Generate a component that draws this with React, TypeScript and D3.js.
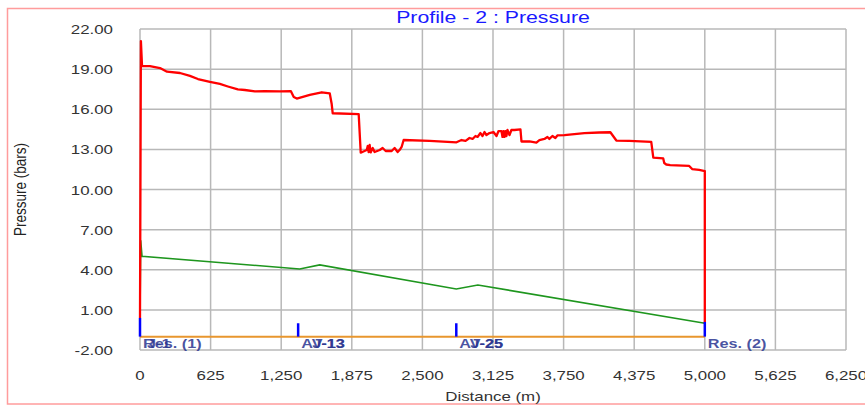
import React from "react";
import * as d3 from "d3";

const title = "Profile - 2 : Pressure";
const xLabel = "Distance (m)";
const yLabel = "Pressure (bars)";
const xTicks = [0, 625, 1250, 1875, 2500, 3125, 3750, 4375, 5000, 5625, 6250];
const yTicks = [-2, 1, 4, 7, 10, 13, 16, 19, 22];

// Pressure profile (red)
const pressureDist = [0, 8, 18, 88, 177, 239, 354, 442, 513, 619, 707, 778, 866, 928, 1017, 1105, 1238, 1335, 1361, 1388, 1503, 1609, 1680, 1697, 1706, 1936, 1954, 2007, 2016, 2024, 2033, 2042, 2060, 2077, 2122, 2148, 2175, 2228, 2254, 2281, 2298, 2316, 2334, 2564, 2802, 2846, 2882, 2917, 2944, 2970, 2988, 3014, 3032, 3050, 3067, 3094, 3129, 3156, 3174, 3200, 3209, 3218, 3227, 3235, 3244, 3253, 3271, 3288, 3315, 3368, 3377, 3448, 3509, 3536, 3580, 3607, 3624, 3651, 3677, 3695, 3757, 3801, 3934, 4066, 4164, 4217, 4332, 4526, 4544, 4632, 4641, 4659, 4694, 4862, 4888, 4950, 5000, 5000];
const pressureVal = [0.4, 21.1, 19.23, 19.23, 19.08, 18.81, 18.71, 18.49, 18.26, 18.04, 17.89, 17.7, 17.48, 17.44, 17.33, 17.36, 17.33, 17.36, 16.92, 16.8, 17.07, 17.27, 17.18, 16.39, 15.7, 15.64, 12.75, 12.95, 13.25, 12.8, 13.33, 12.77, 13.1, 12.8, 12.95, 13.1, 12.88, 12.88, 13.1, 12.8, 12.95, 13.18, 13.7, 13.63, 13.53, 13.7, 13.63, 13.85, 13.78, 14.0, 13.93, 14.22, 14.0, 14.3, 14.07, 14.22, 14.3, 14.0, 14.37, 14.37, 13.93, 14.37, 13.93, 14.37, 14.0, 14.45, 14.07, 14.45, 14.45, 14.49, 13.59, 13.59, 13.51, 13.7, 13.78, 13.93, 13.78, 14.0, 13.85, 14.04, 14.07, 14.11, 14.22, 14.26, 14.28, 13.66, 13.63, 13.56, 12.39, 12.32, 11.98, 11.87, 11.83, 11.76, 11.53, 11.46, 11.38, 0.0];

// Hydraulic grade (green)
const gradeDist = [0, 6, 18, 1414, 1591, 2800, 2991, 5000];
const gradeVal = [0.4, 6.2, 5.0, 4.06, 4.36, 2.56, 2.86, 0.0];

// Elevation (orange)
const elevDist = [0, 5000];
const elevVal = [-1.0, -1.0];

// Node markers (blue)
const nodeDist = [0, 1400, 2800, 5000];
const nodeTop = [0.4, 0.0, 0.0, 0.1];
const nodeBase = [-1.0, -1.0, -1.0, -1.0];

// Node labels
const labelDist = [0, 0, 1400, 1400, 2800, 2800, 5000];
const labelText = ["Res. (1)", "J-1", "AV-13", "J-13", "AV-25", "J-25", "Res. (2)"];
const labelShift = [0, 4, 0, 11, 0, 11, 0];

const W = 865;
const H = 405;
const M = { left: 140, right: 846, top: 29, bottom: 350 };
const SX = 1.25;

export default function App() {
  const x = d3.scaleLinear().domain([0, 6250]).range([M.left, M.right]);
  const y = d3.scaleLinear().domain([-2, 22]).range([M.bottom, M.top]);
  const line = d3
    .line<[number, number]>()
    .x((d) => x(d[0]))
    .y((d) => y(d[1]));
  const red = line(pressureDist.map((d, i) => [d, pressureVal[i]]));
  const green = line(gradeDist.map((d, i) => [d, gradeVal[i]]));
  const orange = line(elevDist.map((d, i) => [d, elevVal[i]]));
  const fmtY = (v: number) => d3.format(".2f")(v).replace("\u2212", "-");
  const fmtX = d3.format(",");
  const font = "Arial, 'Liberation Sans', sans-serif";

  return (
    <div style={{ position: "fixed", left: 0, top: 0, width: W, height: H, background: "#fff" }}>
      <svg width={W} height={H} style={{ display: "block" }} fontFamily={font}>
        <rect x={7.5} y={8.5} width={W} height={395.5} fill="#fff" stroke="#ff9c9c" strokeWidth={1.5} />
        {/* grid */}
        {xTicks.map((t) => (
          <line key={"gx" + t} x1={x(t)} x2={x(t)} y1={M.top} y2={M.bottom} stroke="#b8b8b8" strokeWidth={1.5} />
        ))}
        {yTicks.map((t) => (
          <line key={"gy" + t} x1={M.left} x2={M.right} y1={y(t)} y2={y(t)} stroke="#b8b8b8" strokeWidth={1.5} />
        ))}
        {/* tick labels */}
        {yTicks.map((t) => (
          <text
            key={"ty" + t}
            transform={`translate(113,${y(t) + 5}) scale(${SX},1)`}
            textAnchor="end"
            fontSize={13.5}
            fill="#333"
          >
            {fmtY(t)}
          </text>
        ))}
        {xTicks.map((t) => (
          <text
            key={"tx" + t}
            transform={`translate(${x(t)},${380}) scale(${SX},1)`}
            textAnchor="middle"
            fontSize={13.5}
            fill="#333"
          >
            {fmtX(t)}
          </text>
        ))}
        {/* series */}
        <path d={orange ?? ""} fill="none" stroke="#e8962e" strokeWidth={2} />
        <path d={green ?? ""} fill="none" stroke="#1e961e" strokeWidth={1.6} />
        <path d={red ?? ""} fill="none" stroke="#ff0000" strokeWidth={2.3} strokeLinejoin="round" />
        {nodeDist.map((d, i) => (
          <line
            key={"n" + i}
            x1={x(d)}
            x2={x(d)}
            y1={y(nodeTop[i])}
            y2={y(nodeBase[i])}
            stroke="#0000ff"
            strokeWidth={2.5}
          />
        ))}
        {labelText.map((s, i) => (
          <text
            key={"l" + i}
            transform={`translate(${x(labelDist[i]) + 3 + labelShift[i]},${348}) scale(${SX},1)`}
            fontSize={13}
            fontWeight="bold"
            fill="#2a3590"
            fillOpacity={0.85}
          >
            {s}
          </text>
        ))}
        {/* titles */}
        <text transform={`translate(${(M.left + M.right) / 2},23) scale(${SX},1)`} textAnchor="middle" fontSize={17} fill="#1a1aff">
          {title}
        </text>
        <text transform={`translate(${(M.left + M.right) / 2},401) scale(${SX},1)`} textAnchor="middle" fontSize={13.5} fill="#333">
          {xLabel}
        </text>
        <text transform={`translate(26,${(M.top + M.bottom) / 2}) rotate(-90) scale(1,${SX})`} textAnchor="middle" fontSize={13.5} fill="#222">
          {yLabel}
        </text>
      </svg>
    </div>
  );
}
